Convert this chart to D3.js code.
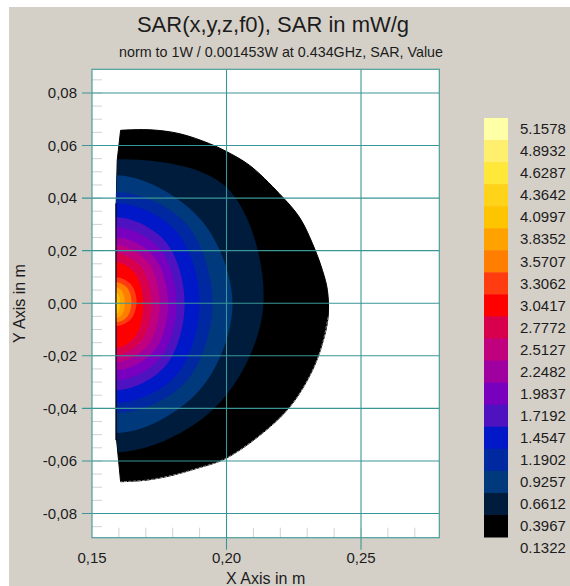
<!DOCTYPE html>
<html>
<head>
<meta charset="utf-8">
<script src="https://cdn.jsdelivr.net/npm/d3@7"></script>
<style>
  body { margin: 0; background: #fff; }
  svg { display: block; }
  text { font-family: "Liberation Sans", Arial, sans-serif; fill: #1c1c1c; }
</style>
</head>
<body>
<svg id="chart" width="570" height="586"></svg>
<script>
// ---- colour scale: level labels (top to bottom) and band colours ----
const legendLevels = ["5.1578", "4.8932", "4.6287", "4.3642", "4.0997", "3.8352", "3.5707",
  "3.3062", "3.0417", "2.7772", "2.5127", "2.2482", "1.9837", "1.7192", "1.4547", "1.1902",
  "0.9257", "0.6612", "0.3967", "0.1322"];
const legendColors = ["#ffffa8", "#ffef6e", "#ffe83a", "#ffd319", "#ffc400", "#ffa200", "#ff7e00",
  "#ff3c10", "#ff0000", "#d8004c", "#c0007e", "#a000a0", "#7a00c0", "#4e12c0", "#0018c8",
  "#0028a0", "#003a7c", "#001c3c", "#000000"];

// ---- axes ----
const xTicks = [0.15, 0.20, 0.25];
const yTicks = [-0.08, -0.06, -0.04, -0.02, 0.00, 0.02, 0.04, 0.06, 0.08];
const xMinorStep = 0.01;
const yMinorStep = 0.005;

// ---- body cross-section: curved outer surface (upper wall corner -> lower wall corner) ----
const surfaceX = [0.16063, 0.17148, 0.18259, 0.19370, 0.19963, 0.20852, 0.21963, 0.22704, 0.23196,
  0.23567, 0.23752, 0.23778, 0.23567, 0.23196, 0.22456, 0.21470, 0.19963, 0.18878, 0.18011,
  0.17026, 0.16063];
const surfaceY = [0.0658, 0.0660, 0.0645, 0.0607, 0.0579, 0.0525, 0.0417, 0.0328, 0.0227,
  0.0125, 0.0049, -0.0052, -0.0153, -0.0255, -0.0381, -0.0483, -0.0591, -0.0629, -0.0654,
  -0.0673, -0.0679];
// ---- flat wall side (bottom -> top) ----
const wallPtsX = [0.15915, 0.15900, 0.15937];
const wallPtsY = [-0.0521, 0.0380, 0.0544];

// ---- SAR iso-lines, outermost first; each fills its inside with the band colour ----
const wallX = 0.1589;
const contourFill = ["#001c3c", "#003a7c", "#0028a0", "#0018c8", "#4e12c0", "#7a00c0", "#a000a0",
  "#c0007e", "#d8004c", "#ff0000", "#ff3c10", "#ff7e00", "#ffa200", "#ffc400", "#ffd319"];
const contourTopY = [0.0548, 0.0487, 0.0422, 0.0380, 0.0327, 0.0289, 0.0251, 0.0221, 0.0190,
  0.0156, 0.0099, 0.0080, 0.0061, 0.0042, 0.0019];
const contourBottomY = [-0.0567, -0.0494, -0.0418, -0.0380, -0.0331, -0.0293, -0.0255, -0.0224,
  -0.0198, -0.0171, -0.0087, -0.0072, -0.0057, -0.0042, -0.0023];
const contourRightX = [0.21370, 0.20222, 0.19481, 0.19000, 0.18444, 0.18137, 0.17826, 0.17519,
  0.17211, 0.16900, 0.16656, 0.16470, 0.16222, 0.16037, 0.15944];
const contourRightY = [-0.0010, -0.0004, 0.0002, 0.0000, -0.0002, -0.0002, -0.0002, -0.0002,
  -0.0004, -0.0008, 0.0006, 0.0004, 0.0002, 0.0000, -0.0002];
const contourUpperX = [0.19989, 0.19000, 0.18481, 0.18130, 0.17730, 0.17507, 0.17285, 0.17063,
  0.16841, 0.16619, 0.16441, 0.16307, 0.16130, 0.15996, 0.15930];
const contourUpperY = [0.0442, 0.0323, 0.0305, 0.0274, 0.0235, 0.0208, 0.0180, 0.0158, 0.0136,
  0.0110, 0.0073, 0.0059, 0.0044, 0.0030, 0.0013];
const contourLowerX = [0.19556, 0.18963, 0.18481, 0.18130, 0.17730, 0.17507, 0.17285, 0.17063,
  0.16841, 0.16619, 0.16441, 0.16307, 0.16130, 0.15996, 0.15930];
const contourLowerY = [-0.0399, -0.0335, -0.0301, -0.0274, -0.0239, -0.0211, -0.0184, -0.0162,
  -0.0143, -0.0125, -0.0061, -0.0051, -0.0041, -0.0030, -0.0017];

// ---- layout ----
const W = 570, H = 586;
const plot = { left: 92, top: 69.3, right: 439.3, bottom: 537.7 };
const teal = "#3a9696";

const svg = d3.select("#chart");

// page background (white sliver on the top and left edges)
svg.append("rect").attr("x", 0).attr("y", 0).attr("width", W).attr("height", H).attr("fill", "#ffffff");
svg.append("rect").attr("x", 9).attr("y", 7).attr("width", W - 9).attr("height", H - 7).attr("fill", "#d4d0c8");

const x = d3.scaleLinear().domain([0.15, 0.2791]).range([plot.left, plot.right]);
const y = d3.scaleLinear().domain([-0.0892, 0.0890]).range([plot.bottom, plot.top]);

// plot area
svg.append("rect")
  .attr("x", plot.left).attr("y", plot.top)
  .attr("width", plot.right - plot.left).attr("height", plot.bottom - plot.top)
  .attr("fill", "#ffffff");

// minor ticks
const yMinor = d3.range(Math.ceil(y.domain()[0] / yMinorStep), Math.floor(y.domain()[1] / yMinorStep) + 1)
  .map(k => k * yMinorStep);
const xMinor = d3.range(Math.ceil(0.15 / xMinorStep + 1e-9), Math.floor(x.domain()[1] / xMinorStep) + 1)
  .map(k => k * xMinorStep);
svg.append("g").selectAll("line").data(yMinor).join("line")
  .attr("x1", plot.left).attr("x2", plot.left + 10)
  .attr("y1", d => y(d)).attr("y2", d => y(d))
  .attr("stroke", "#d2d2d2").attr("stroke-width", 1);
svg.append("g").selectAll("line").data(xMinor).join("line")
  .attr("x1", d => x(d)).attr("x2", d => x(d))
  .attr("y1", plot.bottom).attr("y2", plot.bottom - 10)
  .attr("stroke", "#d2d2d2").attr("stroke-width", 1);

// body outline: smooth outer surface plus straight wall side
const surfacePts = surfaceX.map((v, i) => [v, surfaceY[i]]);
const wallPts = wallPtsX.map((v, i) => [v, wallPtsY[i]]);
const surfaceLine = d3.line().x(d => x(d[0])).y(d => y(d[1])).curve(d3.curveCatmullRom.alpha(0.5));
const bodyPath = surfaceLine(surfacePts) +
  wallPts.map(p => `L${x(p[0])},${y(p[1])}`).join("") + "Z";

svg.append("clipPath").attr("id", "bodyClip")
  .append("path").attr("d", bodyPath);

const field = svg.append("g");
field.append("path").attr("d", bodyPath)
  .attr("fill", "#000000").attr("stroke", "#000000").attr("stroke-width", 1);
// light mesh-edge seam along the lower surface
field.append("path").attr("d", surfaceLine(surfacePts.slice(11)))
  .attr("fill", "none").attr("stroke", "#9a9a9a").attr("stroke-width", 0.9)
  .attr("stroke-dasharray", "3,1.5");

const bandLine = d3.line().x(d => x(d[0])).y(d => y(d[1])).curve(d3.curveCatmullRomClosed.alpha(0.5));
const bands = contourFill.map((c, i) => {
  const upMirror = [2 * wallX - contourUpperX[i], contourUpperY[i]];
  const lowMirror = [2 * wallX - contourLowerX[i], contourLowerY[i]];
  return {
    color: c,
    pts: [
      upMirror,
      [wallX, contourTopY[i]],
      [contourUpperX[i], contourUpperY[i]],
      [contourRightX[i], contourRightY[i]],
      [contourLowerX[i], contourLowerY[i]],
      [wallX, contourBottomY[i]],
      lowMirror
    ]
  };
});
field.append("g").attr("clip-path", "url(#bodyClip)")
  .selectAll("path").data(bands).join("path")
  .attr("d", d => bandLine(d.pts))
  .attr("fill", d => d.color);

// wall edge of the body
field.append("line")
  .attr("x1", x(wallX)).attr("x2", x(wallX))
  .attr("y1", y(0.0380)).attr("y2", y(-0.0521))
  .attr("stroke", "#000010").attr("stroke-width", 1.2);

// major grid lines (extending past the plot frame like tick marks)
svg.append("g").selectAll("line").data(yTicks).join("line")
  .attr("x1", plot.left - 10).attr("x2", plot.right)
  .attr("y1", d => y(d)).attr("y2", d => y(d))
  .attr("stroke", teal).attr("stroke-width", 1.1);
svg.append("g").selectAll("line").data(xTicks.filter(d => d > 0.15)).join("line")
  .attr("x1", d => x(d)).attr("x2", d => x(d))
  .attr("y1", plot.top).attr("y2", plot.bottom + 12)
  .attr("stroke", teal).attr("stroke-width", 1.1);

// frame
svg.append("rect")
  .attr("x", plot.left).attr("y", plot.top)
  .attr("width", plot.right - plot.left).attr("height", plot.bottom - plot.top)
  .attr("fill", "none").attr("stroke", "#4a9e9e").attr("stroke-width", 1.2);

// tick labels
const fmt = v => d3.format(".2f")(v).replace("−", "-").replace(".", ",");
svg.append("g").selectAll("text").data(yTicks).join("text")
  .attr("x", 77).attr("y", d => y(d) + 5.3)
  .attr("text-anchor", "end").attr("font-size", 15)
  .text(d => fmt(Math.abs(d) < 1e-9 ? 0 : d));
svg.append("g").selectAll("text").data(xTicks).join("text")
  .attr("x", d => x(d)).attr("y", 563)
  .attr("text-anchor", "middle").attr("font-size", 15)
  .text(d => fmt(d));

// axis titles
svg.append("text").attr("x", (plot.left + plot.right) / 2).attr("y", 584)
  .attr("text-anchor", "middle").attr("font-size", 16).text("X Axis in m");
svg.append("text")
  .attr("transform", `translate(25,${(plot.top + plot.bottom) / 2}) rotate(-90)`)
  .attr("text-anchor", "middle").attr("font-size", 16).text("Y Axis in m");

// titles
svg.append("text").attr("x", 273).attr("y", 32)
  .attr("text-anchor", "middle").attr("font-size", 22).text("SAR(x,y,z,f0), SAR in mW/g");
svg.append("text").attr("x", 281).attr("y", 57)
  .attr("text-anchor", "middle").attr("font-size", 14.3)
  .text("norm to 1W / 0.001453W at 0.434GHz, SAR, Value");

// colour legend
const legTop = 118, legBottom = 537;
const ly = d3.scaleBand().domain(d3.range(legendColors.length)).range([legTop, legBottom]).padding(0);
const leg = svg.append("g");
leg.selectAll("rect").data(legendColors).join("rect")
  .attr("x", 484).attr("width", 24)
  .attr("y", (d, i) => ly(i)).attr("height", ly.bandwidth() + 0.5)
  .attr("fill", d => d);
leg.selectAll("text").data(legendLevels).join("text")
  .attr("x", 520)
  .attr("y", (d, i) => legTop + ly.bandwidth() * (i + 0.5) + 5.2)
  .attr("font-size", 15)
  .text(d => d);
</script>
</body>
</html>
